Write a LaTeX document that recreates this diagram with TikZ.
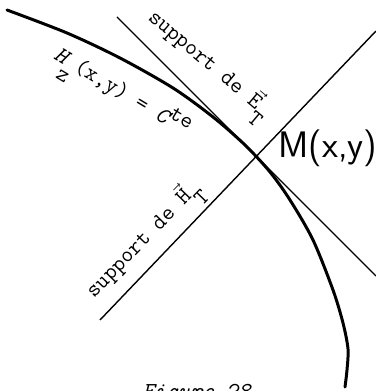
\documentclass[tikz,border=0pt]{standalone}
\usepackage{fontspec}
\begin{document}
\begin{tikzpicture}[every node/.style={font=\fontsize{13}{15}\ttfamily,inner sep=0pt},
  support/.style={line width=0.8pt},
  levelcurve/.style={line width=1.7pt,line cap=round}]
\useasboundingbox (0,0) rectangle (7.5,7.82);
\coordinate (M) at (5.10,4.69);
\coordinate (e1) at (2.34,7.48); \coordinate (e2) at (7.52,2.30);
\coordinate (h1) at (2.00,1.42); \coordinate (h2) at (7.52,7.20);
\draw[support] (e1)--(e2);
\draw[support] (h1)--(h2);
\draw[levelcurve] plot[smooth] coordinates {(0.14,7.62) (1.34,7.16) (2.40,6.66) (3.46,6.06) (4.26,5.48) (4.90,4.92) (5.40,4.38) (5.80,3.82) (6.26,3.02) (6.66,2.02) (6.86,1.36) (6.96,0.84) (6.94,0.42) (6.90,0.08)};
\node[rotate=-40,anchor=base west] (labE) at (2.94,7.44) {support de $\vec{\mbox{E}}$\raisebox{-8pt}{T}};
\node[rotate=46,anchor=base west] (labH) at (1.88,1.84) {support de $\vec{\mbox{H}}$\raisebox{-8pt}{T}};
\node[rotate=-31,anchor=base west] (labHz) at (1.05,6.66) {{\itshape H}\raisebox{-9pt}{z}(x,y) = {\itshape C}\raisebox{5pt}{te}};
\node[font=\fontsize{21}{25}\sffamily,anchor=base west] (labM) at (5.56,4.66) {M(x,y)};
\node[font=\fontsize{13}{15}\ttfamily\itshape,anchor=base west] (caption) at (2.84,-0.14) {Figure 28};
\end{tikzpicture}
\end{document}
